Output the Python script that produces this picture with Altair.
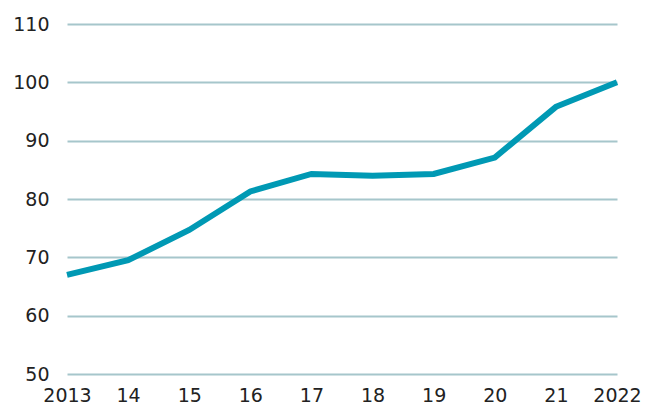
import altair as alt
import pandas as pd

years = [2013, 2014, 2015, 2016, 2017, 2018, 2019, 2020, 2021, 2022]
values = [67.0, 69.5, 74.7, 81.3, 84.3, 84.0, 84.3, 87.1, 95.8, 100.0]

df = pd.DataFrame({"year": years, "value": values})

chart = alt.Chart(df).mark_line(color="#0099b4", strokeWidth=6, strokeCap="butt", strokeJoin="miter").encode(
    x=alt.X("year:Q", scale=alt.Scale(domain=[2013, 2022], nice=False, zero=False),
            axis=alt.Axis(values=years, grid=False, domain=False, ticks=False,
                          labelExpr="datum.value == 2013 || datum.value == 2022 ? datum.value : substring(toString(datum.value), 2)",
                          labelPadding=12, labelFlush=False, title=None)),
    y=alt.Y("value:Q", scale=alt.Scale(domain=[50, 110], nice=False, zero=False),
            axis=alt.Axis(values=[50, 60, 70, 80, 90, 100, 110], grid=True, domain=False, ticks=False,
                          labelPadding=18, title=None)),
).properties(
    width=550, height=350,
    autosize=alt.AutoSizeParams(type="none"),
    padding={"left": 59, "top": 16, "right": 24, "bottom": 31},
).configure_axis(
    labelFont="DejaVu Sans", labelFontSize=19, labelColor="#222222",
    gridColor="#a6c6cb", gridWidth=2, gridOpacity=1,
).configure_view(stroke=None)

chart.save("out.html", embed_options={"renderer": "svg", "actions": False})
